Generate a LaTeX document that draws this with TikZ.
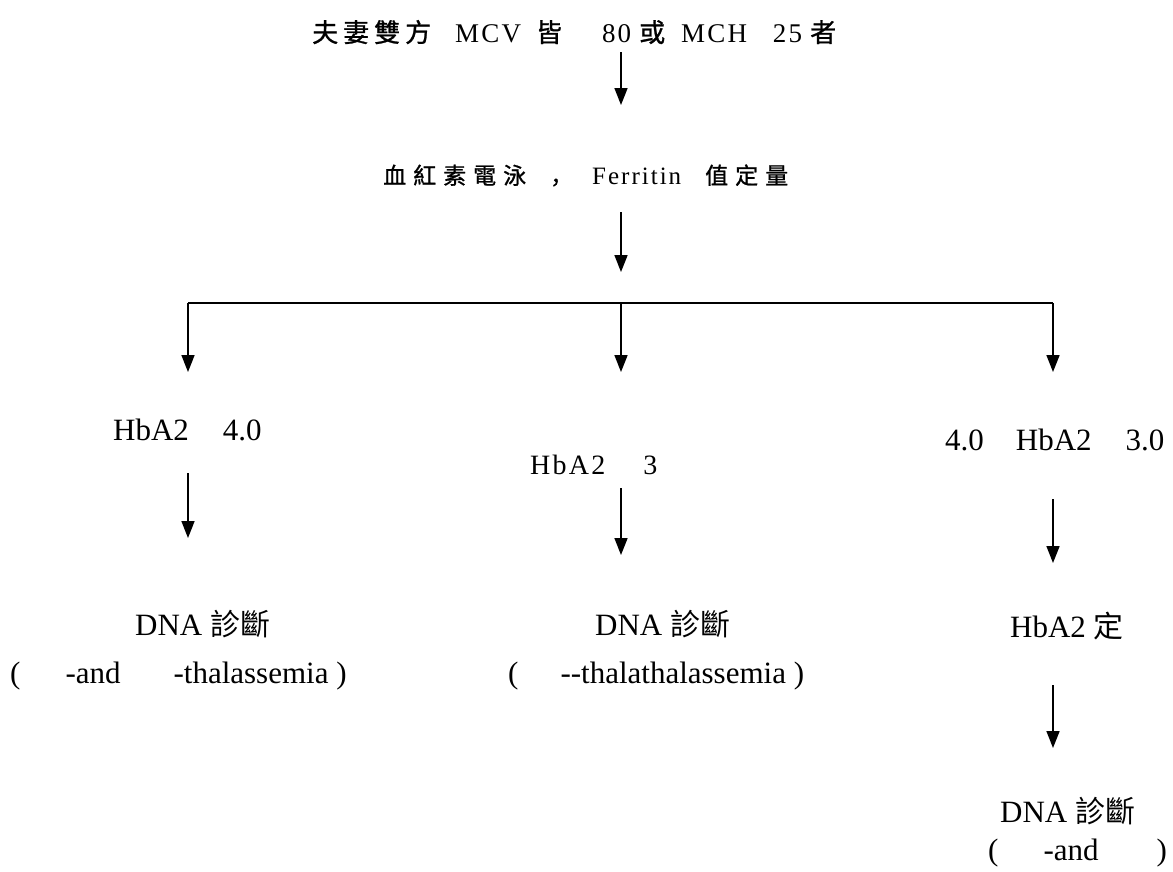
\documentclass[tikz,border=0pt]{standalone}
\usepackage{fontspec}
\setmainfont{Liberation Serif}
\newfontfamily\cjk{Noto Sans CJK TC}
\newfontfamily\cjkb[FakeBold=1]{Noto Sans CJK TC}
\newfontfamily\cjksc[FakeBold=1]{Noto Sans CJK SC}
\newfontfamily\latt[LetterSpace=8]{Liberation Serif}
\usetikzlibrary{arrows.meta}
\newcommand{\tg}{\hspace{5pt}}
\newcommand{\sg}{\hspace{7pt}}
\tikzset{
  txt/.style={anchor=base west, inner sep=0pt, font=\fontsize{31}{36}\selectfont},
  ttl/.style={anchor=base west, inner sep=0pt},
  arr/.style={line width=1.7pt, -{Triangle[length=17pt,width=13pt]}},
  ln/.style={line width=1.8pt}
}
\begin{document}
\begin{tikzpicture}[x=1pt,y=-1pt]
\useasboundingbox (0,0) rectangle (1173,871);
% titles
\node[ttl] (t1) at (312,42) {\fontsize{26}{30}\selectfont\cjkb 夫\tg 妻\tg 雙\tg 方\hspace{24pt}{\latt\fontsize{27}{30}\selectfont MCV}\hspace{15pt}皆\hspace{40pt}{\latt\fontsize{27}{30}\selectfont 80}\hspace{8pt}或\hspace{16pt}{\latt\fontsize{27}{30}\selectfont MCH}\hspace{26pt}{\latt\fontsize{27}{30}\selectfont 25}\hspace{8pt}者};
\node[ttl] (t2) at (383,184) {\fontsize{23}{26}\selectfont\cjkb 血\sg 紅\sg 素\sg 電\sg 泳\hspace{24pt}{\cjksc ，}\hspace{19pt}{\latt\fontsize{25}{26}\selectfont Ferritin}\hspace{24pt}值\sg 定\sg 量};
% level 1 texts
\node[txt] (l1) at (113,440) {HbA2\hspace{34pt}4.0};
\node[ttl] (m1) at (530,474) {\fontsize{28}{32}\selectfont\latt HbA2\hspace{38pt}3};
\node[txt] (r1) at (945,450) {4.0\hspace{32pt}HbA2\hspace{34pt}3.0};
% level 2 texts
\node[txt] (l2) at (135,635) {DNA {\cjk\fontsize{30}{34}\selectfont 診斷}};
\node[txt] (l3) at (10,683) {(\hspace{45pt}-and\hspace{53pt}-thalassemia )};
\node[txt] (m2) at (595,635) {DNA {\cjk\fontsize{30}{34}\selectfont 診斷}};
\node[txt] (m3) at (508,683) {(\hspace{42pt}-{}-thalathalassemia )};
\node[txt] (r2) at (1010,637) {HbA2 {\cjk\fontsize{30}{34}\selectfont 定}};
\node[txt] (r3) at (1000,822) {DNA {\cjk\fontsize{30}{34}\selectfont 診斷}};
\node[txt] (r4) at (988,860) {(\hspace{45pt}-and\hspace{58pt})};
% connector coordinates
\coordinate (a1s) at (621,52);  \coordinate (a1e) at (621,105);
\coordinate (a2s) at (621,212); \coordinate (a2e) at (621,272);
\coordinate (hl) at (188,303); \coordinate (hm) at (621,303); \coordinate (hr) at (1053,303);
\coordinate (dl) at (188,372); \coordinate (dm) at (621,372); \coordinate (dr) at (1053,372);
\coordinate (b1s) at (188,473); \coordinate (b1e) at (188,538);
\coordinate (b2s) at (621,488); \coordinate (b2e) at (621,555);
\coordinate (b3s) at (1053,499); \coordinate (b3e) at (1053,563);
\coordinate (c3s) at (1053,685); \coordinate (c3e) at (1053,748);
% connectors
\draw[arr] (a1s) -- (a1e);
\draw[arr] (a2s) -- (a2e);
\draw[ln] (hl) -- (hr);
\draw[arr] (hl) -- (dl);
\draw[arr] (hm) -- (dm);
\draw[arr] (hr) -- (dr);
\draw[arr] (b1s) -- (b1e);
\draw[arr] (b2s) -- (b2e);
\draw[arr] (b3s) -- (b3e);
\draw[arr] (c3s) -- (c3e);
\end{tikzpicture}
\end{document}
